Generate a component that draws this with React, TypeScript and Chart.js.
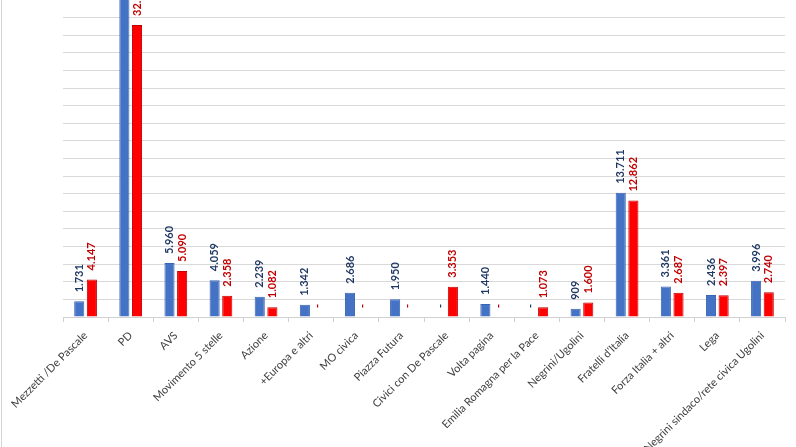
import React, { useEffect, useRef } from "react";
import { Chart, registerables } from "chart.js";

Chart.register(...registerables);

const categories = [
  "Mezzetti /De Pascale",
  "PD",
  "AVS",
  "Movimento 5 stelle",
  "Azione",
  "+Europa e altri",
  "MO civica",
  "Piazza Futura",
  "Civici con De Pascale",
  "Volta pagina",
  "Emilia Romagna per la Pace",
  "Negrini/Ugolini",
  "Fratelli d'Italia",
  "Forza Italia + altri",
  "Lega",
  "Negrini sindaco/rete civica Ugolini",
];

const blueValues: (number | null)[] = [
  1731, 38200, 5960, 4059, 2239, 1342, 2686, 1950, null, 1440, null, 909, 13711, 3361, 2436, 3996,
];

const redValues: (number | null)[] = [
  4147, 32250, 5090, 2358, 1082, null, null, null, 3353, null, 1073, 1600, 12862, 2687, 2397, 2740,
];

const yMax = 35000;
const yStep = 2000;
const labelColors = ["#1F3864", "#C00000"];

const fmt = (v: number) => v.toString().replace(/\B(?=(\d{3})+(?!\d))/g, ".");

const labelPlugin = {
  id: "barLabels",
  afterDraw(chart: any) {
    const ctx: CanvasRenderingContext2D = chart.ctx;
    const yScale = chart.scales.y;
    const base = yScale.getPixelForValue(0);
    chart.data.datasets.forEach((ds: any, di: number) => {
      const meta = chart.getDatasetMeta(di);
      meta.data.forEach((el: any, i: number) => {
        const v = ds.data[i];
        const top = v == null ? base : yScale.getPixelForValue(v);
        const text = v == null ? "-" : fmt(v);
        ctx.save();
        ctx.translate(el.x, top - 9);
        ctx.rotate(-Math.PI / 2);
        ctx.font = "bold 11px Lato";
        ctx.fillStyle = labelColors[di];
        ctx.textAlign = "left";
        ctx.textBaseline = "middle";
        ctx.fillText(text, 0, 0);
        ctx.restore();
      });
    });
  },
};

export default function App() {
  const ref = useRef<HTMLCanvasElement>(null);
  useEffect(() => {
    document.body.style.margin = "0";
    const chart = new Chart(ref.current!, {
      type: "bar",
      data: {
        labels: categories,
        datasets: [
          {
            label: "A",
            data: blueValues,
            backgroundColor: "#4472C4",
            borderColor: "#3A65B3",
            borderWidth: 1,
            categoryPercentage: 0.56,
            barPercentage: 0.8,
          },
          {
            label: "B",
            data: redValues,
            backgroundColor: "#FF0000",
            borderColor: "#C00000",
            borderWidth: 1,
            categoryPercentage: 0.56,
            barPercentage: 0.8,
          },
        ],
      },
      options: {
        animation: false,
        responsive: false,
        maintainAspectRatio: false,
        devicePixelRatio: 1,
        layout: { padding: { left: 63, right: 11, top: 0, bottom: 0 } },
        plugins: { legend: { display: false }, tooltip: { enabled: false } },
        scales: {
          x: {
            grid: {
              offset: true,
              drawOnChartArea: false,
              drawTicks: true,
              tickLength: 5,
              color: "#D0D0D0",
            },
            border: { display: true, color: "#D0D0D0" },
            ticks: {
              autoSkip: false,
              maxRotation: 45,
              minRotation: 45,
              padding: 7,
              color: "#404040",
              font: { family: "Lato", size: 11 },
            },
            afterFit(scale: any) {
              scale.height = 130;
              scale.paddingLeft = 0;
              scale.paddingRight = 0;
            },
          },
          y: {
            min: 0,
            max: yMax,
            ticks: { display: false, stepSize: yStep },
            grid: {
              drawTicks: false,
              color: (c: any) => (c.tick && c.tick.value >= yMax ? "rgba(0,0,0,0)" : "#D9D9D9"),
            },
            border: { display: false },
            afterFit(scale: any) {
              scale.width = 0;
            },
          },
        },
      },
      plugins: [labelPlugin],
    });
    return () => chart.destroy();
  }, []);
  return (
    <div style={{ position: "absolute", left: 0, top: 0, width: 796, height: 447, background: "#fff" }}>
      <canvas ref={ref} width={796} height={447} style={{ display: "block" }} />
      <div style={{ position: "absolute", left: 1, top: 0, width: 1, height: 447, background: "#D4D4D4" }} />
    </div>
  );
}
